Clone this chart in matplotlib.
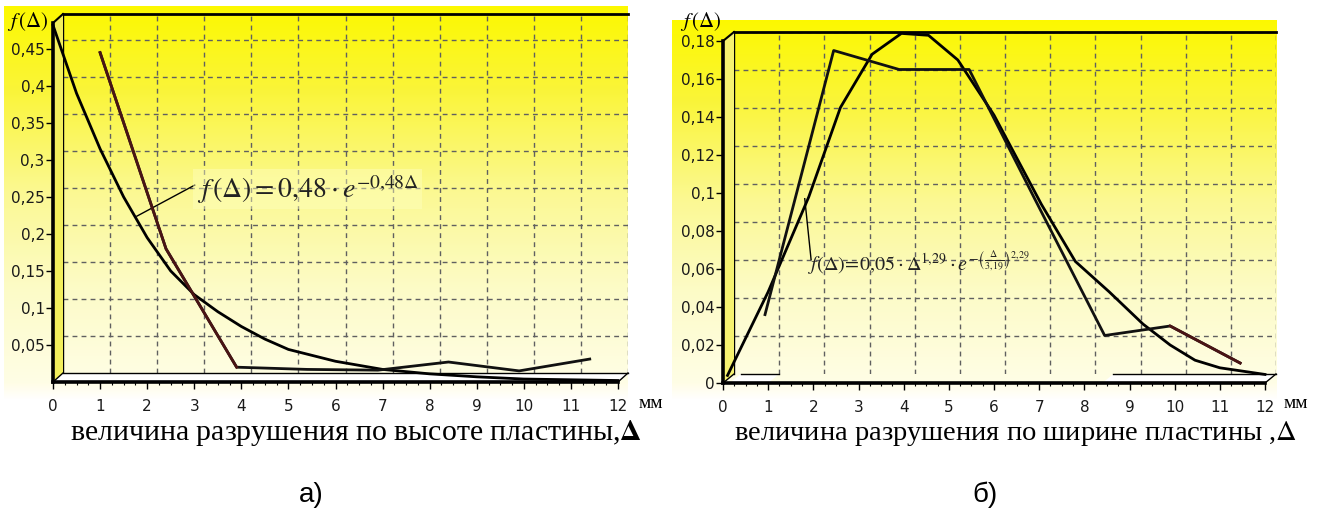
import numpy as np
import matplotlib
matplotlib.use("Agg")
import matplotlib.pyplot as plt
from matplotlib.patches import Polygon

plt.rcParams['mathtext.fontset'] = 'stix'

# ---------------- data ----------------
x_ticks = list(range(13))
x_tick_labels = [str(v) for v in x_ticks]

# chart a)
a_curve_x = [0, 0.5, 1, 1.5, 2, 2.5, 3, 3.5, 4, 4.5, 5, 6, 7, 8, 9, 10, 11, 12]
a_curve_y = [0.482, 0.39, 0.315, 0.25, 0.195, 0.15, 0.118, 0.095, 0.075, 0.058,
             0.044, 0.028, 0.017, 0.011, 0.007, 0.004, 0.003, 0.002]
a_poly_x = [1.0, 2.4, 3.9, 5.4, 6.9, 8.4, 9.9, 11.4]
a_poly_y = [0.445, 0.18, 0.02, 0.017, 0.016, 0.027, 0.015, 0.031]
a_yticks = [0.05, 0.1, 0.15, 0.2, 0.25, 0.3, 0.35, 0.4, 0.45]
a_ytick_labels = ['0,05', '0,1', '0,15', '0,2', '0,25', '0,3', '0,35', '0,4', '0,45']
a_ylim = (0, 0.485)
a_formula = r'$f\,(\Delta) = 0{,}48\cdot e^{-0{,}48\Delta}$'
a_xlabel = 'величина разрушения по высоте пластины,' + r'$\mathbf{\Delta}$'

# chart б)
b_curve_x = [0.1, 1.0, 1.9, 2.6, 3.3, 3.95, 4.55, 5.2, 6.0, 7.05, 7.8, 8.55,
             9.3, 9.9, 10.45, 11.0, 12.0]
b_curve_y = [0.004, 0.048, 0.098, 0.145, 0.173, 0.184, 0.183, 0.170, 0.141,
             0.094, 0.064, 0.048, 0.031, 0.020, 0.012, 0.008, 0.0045]
b_poly_x = [0.93, 2.45, 3.9, 5.45, 6.9, 8.45, 9.9, 11.45]
b_poly_y = [0.036, 0.175, 0.165, 0.165, 0.097, 0.025, 0.030, 0.0105]
b_yticks = [0, 0.02, 0.04, 0.06, 0.08, 0.1, 0.12, 0.14, 0.16, 0.18]
b_ytick_labels = ['0', '0,02', '0,04', '0,06', '0,08', '0,1', '0,12', '0,14', '0,16', '0,18']
b_ylim = (0, 0.18)
b_formula = (r'$f(\Delta)\!=\!0{,}05\cdot\Delta^{1{,}29}\cdot '
             r'e^{-\left(\frac{\Delta}{3{,}19}\right)^{2{,}29}}$')
b_xlabel = 'величина разрушения по ширине пластины ,' + r'$\Delta$'

# ---------------- figure ----------------
FW, FH = 1325, 519
fig = plt.figure(figsize=(FW / 100, FH / 100), dpi=100)


def box(x0, y0, x1, y1):
    return [x0 / FW, 1 - y1 / FH, (x1 - x0) / FW, (y1 - y0) / FH]


bg = fig.add_axes([0, 0, 1, 1], zorder=-10)
bg.set_xlim(0, FW)
bg.set_ylim(FH, 0)
bg.axis('off')


def gradient(x0, x1, ytop, yfloor, ybottom):
    n = 400
    ys = np.linspace(ytop, ybottom, n)
    t = np.clip((ys - ytop) / (yfloor - ytop), 0, 1)
    stops_t = [0, 0.22, 0.5, 0.75, 1.0]
    r = np.interp(t, stops_t, [0.99, 0.98, 0.985, 0.99, 1.0])
    g = np.interp(t, stops_t, [0.975, 0.96, 0.975, 0.985, 0.995])
    b = np.interp(t, stops_t, [0.0, 0.22, 0.58, 0.78, 0.9])
    a = np.where(ys <= yfloor, 1.0,
                 np.clip(1 - (ys - yfloor) / (ybottom - yfloor), 0, 1))
    img = np.stack([r, g, b, a], axis=-1)[:, None, :]
    img = np.repeat(img, 2, axis=1)
    bg.imshow(img, extent=[x0, x1, ybottom, ytop], aspect='auto',
              interpolation='bilinear')


gradient(4, 628, 6, 383, 400)
gradient(672, 1277, 20, 383, 400)
bg.set_xlim(0, FW)
bg.set_ylim(FH, 0)


def chart(front, dx, dy, ylim, yticks, ytl, cx, cy, px, py, brown_idx,
          floor_segs, wall_color):
    x0, y0, x1, y1 = front
    W, H = x1 - x0, y1 - y0
    fx, fy = dx / W, dy / H
    axB = fig.add_axes(box(x0 + dx, y0 - dy, x1 + dx, y1 - dy), zorder=1)
    axF = fig.add_axes(box(x0, y0, x1, y1), zorder=2)
    for ax in (axB, axF):
        ax.set_xlim(0, 12)
        ax.set_ylim(*ylim)
        ax.patch.set_alpha(0)
    # back wall
    axB.set_xticks([])
    axB.set_yticks([])
    for v in yticks:
        if v > 0:
            axB.axhline(v, color='#606060', lw=1.0, ls=(0, (3.5, 3)), zorder=1)
    for v in range(1, 13):
        axB.axvline(v, color='#606060', lw=1.0, ls=(0, (3.5, 3)), zorder=1)
    axB.spines['right'].set_visible(False)
    axB.spines['bottom'].set_visible(False)
    axB.spines['top'].set_linewidth(2)
    axB.spines['left'].set_linewidth(1)
    # floor strip
    for a, b in floor_segs:
        poly = Polygon([(a / 12, 0), (b / 12, 0), (fx + b / 12, fy), (fx + a / 12, fy)],
                       closed=True, transform=axF.transAxes, facecolor='white',
                       edgecolor='none', zorder=0.5, clip_on=False)
        axF.add_patch(poly)
        axF.plot([fx + a / 12, fx + b / 12], [fy, fy], transform=axF.transAxes,
                 color='k', lw=1, clip_on=False, zorder=0.6)
    axF.plot([1, 1 + fx], [0, fy], transform=axF.transAxes, color='k', lw=1,
             clip_on=False, zorder=0.6)
    axF.plot([0, fx], [0, fy], transform=axF.transAxes, color='k', lw=1,
             clip_on=False, zorder=0.6)
    # left wall strip
    wall = Polygon([(0, 0), (fx, fy), (fx, 1 + fy), (0, 1)], closed=True,
                   transform=axF.transAxes, facecolor=wall_color,
                   edgecolor='none', zorder=0.4, clip_on=False)
    axF.add_patch(wall)
    axF.plot([0, fx], [1, 1 + fy], transform=axF.transAxes, color='k', lw=1.5,
             clip_on=False, zorder=0.6)
    # data
    axF.plot(cx, cy, color='black', lw=2.0, clip_on=False, zorder=3,
             solid_joinstyle='round')
    axF.plot(px, py, color='#111111', lw=2.0, clip_on=False, zorder=3)
    i0, i1 = brown_idx
    axF.plot(px[i0:i1 + 1], py[i0:i1 + 1], color='#4a1414', lw=2.0,
             clip_on=False, zorder=3.1)
    # front axes
    for s in ('top', 'right'):
        axF.spines[s].set_visible(False)
    axF.spines['left'].set_linewidth(2.6)
    axF.spines['bottom'].set_linewidth(2.6)
    axF.spines['left'].set_zorder(4)
    axF.spines['bottom'].set_zorder(4)
    axF.set_xticks(x_ticks)
    axF.set_xticklabels(x_tick_labels)
    axF.set_xticks(np.arange(0, 12.01, 0.25), minor=True)
    axF.set_yticks(yticks)
    axF.set_yticklabels(ytl)
    axF.tick_params(axis='x', which='major', direction='out', length=5, width=1,
                    pad=7, labelsize=11, labelcolor='#1a1a1a')
    axF.tick_params(axis='x', which='minor', direction='out', length=2.5, width=0.8)
    axF.tick_params(axis='y', which='major', direction='out', length=5, width=1,
                    pad=1, labelsize=11, labelcolor='#1a1a1a')
    return axF


axA = chart((53, 23, 618, 382), 10, 9, a_ylim, a_yticks, a_ytick_labels,
            a_curve_x, a_curve_y, a_poly_x, a_poly_y, (0, 2),
            [(0, 12)], '#f2ee5c')
axBb = chart((723, 41, 1265, 383), 11, 9, b_ylim, b_yticks, b_ytick_labels,
             b_curve_x, b_curve_y, b_poly_x, b_poly_y, (6, 7),
             [(0.15, 1.0), (8.4, 12)], '#f6f270')

# annotations
axA.plot([1.78, 3.01], [0.224, 0.266], color='k', lw=1, zorder=3)
axA.text(3.05, 0.249, a_formula, fontsize=20, ha='left', va='baseline',
         color='#222222', zorder=5,
         bbox=dict(boxstyle='square,pad=0.12', facecolor=(1, 1, 0.75, 0.45),
                   edgecolor='none'))
axBb.plot([1.81, 1.95], [0.097, 0.065], color='k', lw=1, zorder=3)
axBb.text(1.88, 0.059, b_formula, fontsize=14.5, ha='left', va='baseline',
          color='#222222', zorder=5)

# axis labels and titles
serif = ['Liberation Serif', 'DejaVu Serif']
fig.text(28 / FW, 1 - 22 / FH, r'$f\,(\Delta)$', fontsize=15, ha='center', va='center')
fig.text(701 / FW, 1 - 22 / FH, r'$f\,(\Delta)$', fontsize=15, ha='center', va='center')
fig.text(651 / FW, 1 - 404 / FH, 'мм', fontsize=14, family=serif, ha='center', va='center')
fig.text(1296 / FW, 1 - 404 / FH, 'мм', fontsize=14, family=serif, ha='center', va='center')
fig.text(356 / FW, 1 - 433 / FH, a_xlabel, fontsize=21.5, family=serif,
         ha='center', va='center')
fig.text(1015 / FW, 1 - 433 / FH, b_xlabel, fontsize=20.5, family=serif,
         ha='center', va='center')
fig.text(311 / FW, 1 - 495 / FH, 'а)', fontsize=20, family=['Liberation Sans', 'DejaVu Sans'],
         ha='center', va='center')
fig.text(985 / FW, 1 - 495 / FH, 'б)', fontsize=20, family=['Liberation Sans', 'DejaVu Sans'],
         ha='center', va='center')

fig.savefig('out.png', dpi=100)
